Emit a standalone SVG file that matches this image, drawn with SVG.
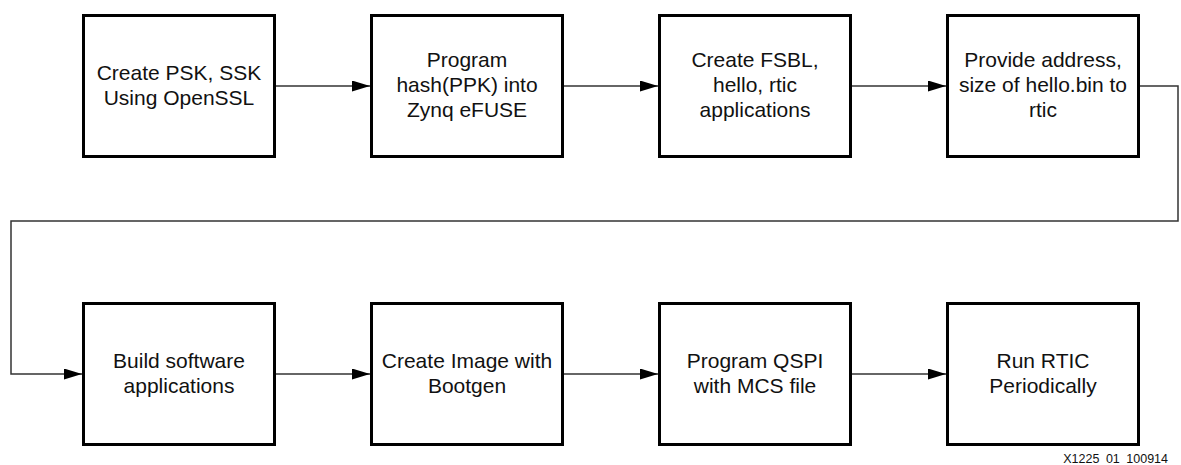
<svg xmlns="http://www.w3.org/2000/svg" width="1181" height="465" viewBox="0 0 1181 465">
<defs>
<marker id="arr" markerUnits="userSpaceOnUse" markerWidth="18" markerHeight="11" refX="18" refY="5.5" orient="auto">
<path d="M0,0 L18,5.5 L0,11 Z" fill="#000"/>
</marker>
<style>
.box{fill:#fff;stroke:#000;stroke-width:3}
.lbl{font-family:"Liberation Sans",Arial,sans-serif;font-size:21px;fill:#111;text-anchor:middle}
.conn{fill:none;stroke:#333;stroke-width:1.5;marker-end:url(#arr)}
.id{font-family:"Liberation Sans",Arial,sans-serif;font-size:12.5px;fill:#111;text-anchor:end;word-spacing:3px}
</style>
</defs>
<rect width="1181" height="465" fill="#fff"/>
<g id="connectors">
<path class="conn" d="M276,86 H370"/>
<path class="conn" d="M564,86 H658"/>
<path class="conn" d="M852,86 H946"/>
<path class="conn" d="M1140,86 H1178 V221 H11 V374 H82"/>
<path class="conn" d="M276,374 H370"/>
<path class="conn" d="M564,374 H658"/>
<path class="conn" d="M852,374 H946"/>
</g>
<g id="n1"><rect class="box" x="83.5" y="15.5" width="191" height="141"/>
<text class="lbl" x="179" y="79.5">Create PSK, SSK</text><text class="lbl" x="179" y="104.5">Using OpenSSL</text></g>
<g id="n2"><rect class="box" x="371.5" y="15.5" width="191" height="141"/>
<text class="lbl" x="467" y="67">Program</text><text class="lbl" x="467" y="92">hash(PPK) into</text><text class="lbl" x="467" y="117">Zynq eFUSE</text></g>
<g id="n3"><rect class="box" x="659.5" y="15.5" width="191" height="141"/>
<text class="lbl" x="755" y="67">Create FSBL,</text><text class="lbl" x="755" y="92">hello, rtic</text><text class="lbl" x="755" y="117">applications</text></g>
<g id="n4"><rect class="box" x="947.5" y="15.5" width="191" height="141"/>
<text class="lbl" x="1043" y="67">Provide address,</text><text class="lbl" x="1043" y="92">size of hello.bin to</text><text class="lbl" x="1043" y="117">rtic</text></g>
<g id="n5"><rect class="box" x="83.5" y="303.5" width="191" height="141"/>
<text class="lbl" x="179" y="367.5">Build software</text><text class="lbl" x="179" y="392.5">applications</text></g>
<g id="n6"><rect class="box" x="371.5" y="303.5" width="191" height="141"/>
<text class="lbl" x="467" y="367.5">Create Image with</text><text class="lbl" x="467" y="392.5">Bootgen</text></g>
<g id="n7"><rect class="box" x="659.5" y="303.5" width="191" height="141"/>
<text class="lbl" x="755" y="367.5">Program QSPI</text><text class="lbl" x="755" y="392.5">with MCS file</text></g>
<g id="n8"><rect class="box" x="947.5" y="303.5" width="191" height="141"/>
<text class="lbl" x="1043" y="367.5">Run RTIC</text><text class="lbl" x="1043" y="392.5">Periodically</text></g>
<text class="id" x="1168" y="463">X1225 01 100914</text>
</svg>
